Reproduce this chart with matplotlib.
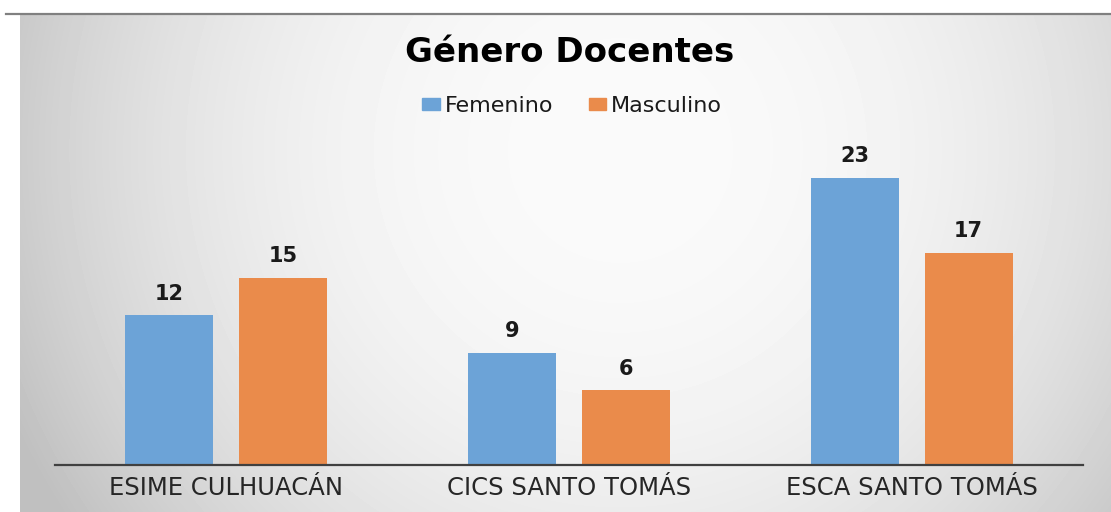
import numpy as np
import matplotlib.pyplot as plt
from matplotlib.patches import Patch
from matplotlib.lines import Line2D

# data
categories = ["ESIME CULHUACÁN", "CICS SANTO TOMÁS", "ESCA SANTO TOMÁS"]
femenino = [12, 9, 23]
masculino = [15, 6, 17]
series_names = ["Femenino", "Masculino"]

blue = "#6CA3D7"
orange = "#EA8B4B"

W, H = 1111, 512
fig = plt.figure(figsize=(W / 100, H / 100), dpi=100)
fig.patch.set_facecolor("white")

# radial gray gradient behind the chart area
bg = fig.add_axes([20 / W, 0, (W - 20) / W, (H - 15) / H], zorder=-2)
xx, yy = np.meshgrid(np.arange(20, W), np.arange(15, H))
r = np.sqrt(((xx - 620) / 600.0) ** 2 + ((yy - 150) / 600.0) ** 2)
val = np.clip(250 - 46 * r ** 2.3, 192, 250) / 255.0
bg.imshow(val, cmap="gray", vmin=0, vmax=1, aspect="auto", interpolation="bilinear")
bg.axis("off")

# thin gray line along the top
fig.add_artist(Line2D([6 / W, 1], [1 - 13.5 / H] * 2, color="#808080", lw=1.6))

ax = fig.add_axes([55 / W, 47 / H, 1028 / W, 312.5 / H])
ax.set_facecolor("none")

x = np.arange(len(categories))
width = 0.257
off = 0.166
b1 = ax.bar(x - off, femenino, width, color=blue)
b2 = ax.bar(x + off, masculino, width, color=orange)

for bars in (b1, b2):
    ax.bar_label(bars, padding=8, fontsize=15, fontweight="bold", color="#1a1a1a")

ax.set_xlim(-0.5, 2.5)
ax.set_ylim(0, 25)
ax.set_yticks([])
ax.set_xticks(x)
ax.set_xticklabels(categories, fontsize=17.5, color="#262626")
ax.tick_params(axis="x", length=0, pad=8)
for s in ("top", "right", "left"):
    ax.spines[s].set_visible(False)
ax.spines["bottom"].set_color("#404040")
ax.spines["bottom"].set_linewidth(1.6)

fig.text(570 / W, 1 - 53 / H, "Género Docentes", ha="center", va="center",
         fontsize=24.5, fontweight="bold", color="black")

handles = [Patch(color=blue), Patch(color=orange)]
fig.legend(handles, series_names, loc="center", bbox_to_anchor=(572 / W, 1 - 106 / H),
           ncol=2, frameon=False, fontsize=16, handlelength=0.8, handleheight=0.45,
           handletextpad=0.2, columnspacing=1.6, labelcolor="#1a1a1a",
           borderpad=0, borderaxespad=0)

fig.savefig("out.png", dpi=100)
